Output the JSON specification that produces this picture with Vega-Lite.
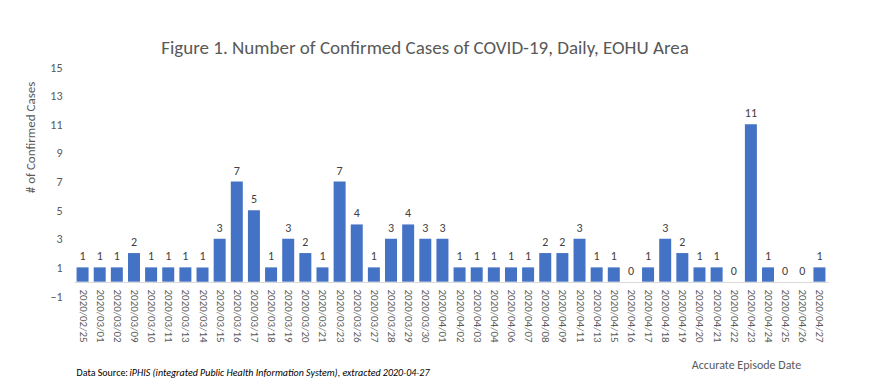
{
  "$schema": "https://vega.github.io/schema/vega-lite/v6.json",
  "width": 754,
  "height": 229,
  "autosize": "none",
  "padding": {"left": 74, "top": 67, "right": 59, "bottom": 87},
  "background": "white",
  "config": {
    "font": "Carlito, Lato, sans-serif",
    "view": {"stroke": null}
  },
  "title": {
    "text": "Figure 1. Number of Confirmed Cases of COVID-19, Daily, EOHU Area",
    "fontSize": 19,
    "fontWeight": "normal",
    "color": "#595959",
    "anchor": "middle",
    "dx": -26,
    "offset": 3
  },
  "data": {
    "values": [
      {"date": "2020/02/25", "cases": 1},
      {"date": "2020/03/01", "cases": 1},
      {"date": "2020/03/02", "cases": 1},
      {"date": "2020/03/09", "cases": 2},
      {"date": "2020/03/10", "cases": 1},
      {"date": "2020/03/11", "cases": 1},
      {"date": "2020/03/13", "cases": 1},
      {"date": "2020/03/14", "cases": 1},
      {"date": "2020/03/15", "cases": 3},
      {"date": "2020/03/16", "cases": 7},
      {"date": "2020/03/17", "cases": 5},
      {"date": "2020/03/18", "cases": 1},
      {"date": "2020/03/19", "cases": 3},
      {"date": "2020/03/20", "cases": 2},
      {"date": "2020/03/21", "cases": 1},
      {"date": "2020/03/23", "cases": 7},
      {"date": "2020/03/26", "cases": 4},
      {"date": "2020/03/27", "cases": 1},
      {"date": "2020/03/28", "cases": 3},
      {"date": "2020/03/29", "cases": 4},
      {"date": "2020/03/30", "cases": 3},
      {"date": "2020/04/01", "cases": 3},
      {"date": "2020/04/02", "cases": 1},
      {"date": "2020/04/03", "cases": 1},
      {"date": "2020/04/04", "cases": 1},
      {"date": "2020/04/06", "cases": 1},
      {"date": "2020/04/07", "cases": 1},
      {"date": "2020/04/08", "cases": 2},
      {"date": "2020/04/09", "cases": 2},
      {"date": "2020/04/11", "cases": 3},
      {"date": "2020/04/13", "cases": 1},
      {"date": "2020/04/15", "cases": 1},
      {"date": "2020/04/16", "cases": 0},
      {"date": "2020/04/17", "cases": 1},
      {"date": "2020/04/18", "cases": 3},
      {"date": "2020/04/19", "cases": 2},
      {"date": "2020/04/20", "cases": 1},
      {"date": "2020/04/21", "cases": 1},
      {"date": "2020/04/22", "cases": 0},
      {"date": "2020/04/23", "cases": 11},
      {"date": "2020/04/24", "cases": 1},
      {"date": "2020/04/25", "cases": 0},
      {"date": "2020/04/26", "cases": 0},
      {"date": "2020/04/27", "cases": 1}
    ]
  },
  "encoding": {
    "x": {
      "field": "date",
      "type": "nominal",
      "sort": null,
      "scale": {"paddingInner": 0.3, "paddingOuter": 0.15},
      "axis": {
        "title": "Accurate Episode Date",
        "titleFontSize": 12,
        "titleFontWeight": "normal",
        "titleColor": "#595959",
        "titleX": 672,
        "titleY": 86,
        "titleBaseline": "alphabetic",
        "labelAngle": 90,
        "labelFontSize": 11,
        "labelColor": "#595959",
        "labelPadding": 7,
        "ticks": false,
        "domainColor": "#d9d9d9",
        "offset": -14,
        "grid": false
      }
    },
    "y": {
      "field": "cases",
      "type": "quantitative",
      "scale": {"domain": [-1, 15], "nice": false, "zero": false},
      "axis": {
        "title": "# of Confirmed Cases",
        "titleFontSize": 13,
        "titleFontWeight": "normal",
        "titleColor": "#595959",
        "titleX": -37,
        "titleY": 70,
        "values": [-1, 1, 3, 5, 7, 9, 11, 13, 15],
        "labelFontSize": 12,
        "labelColor": "#595959",
        "labelPadding": 12,
        "ticks": false,
        "domain": false,
        "grid": false
      }
    }
  },
  "layer": [
    {
      "mark": {"type": "bar", "color": "#4472C4"},
      "encoding": {"y2": {"datum": 0}}
    },
    {
      "mark": {"type": "text", "baseline": "bottom", "dy": -4, "fontSize": 12, "color": "#404040"},
      "encoding": {"text": {"field": "cases", "type": "quantitative"}}
    },
    {
      "transform": [{"filter": "datum.date == '2020/02/25'"}],
      "mark": {"type": "text", "align": "left", "baseline": "alphabetic", "dx": -6, "fontSize": 10, "color": "#000000"},
      "encoding": {
        "y": {"datum": -6.6},
        "text": {"value": "Data Source:"}
      }
    },
    {
      "transform": [{"filter": "datum.date == '2020/02/25'"}],
      "mark": {"type": "text", "align": "left", "baseline": "alphabetic", "dx": 47, "fontSize": 10, "fontStyle": "italic", "color": "#000000"},
      "encoding": {
        "y": {"datum": -6.6},
        "text": {"value": "iPHIS (integrated Public Health Information System), extracted 2020-04-27"}
      }
    }
  ]
}
